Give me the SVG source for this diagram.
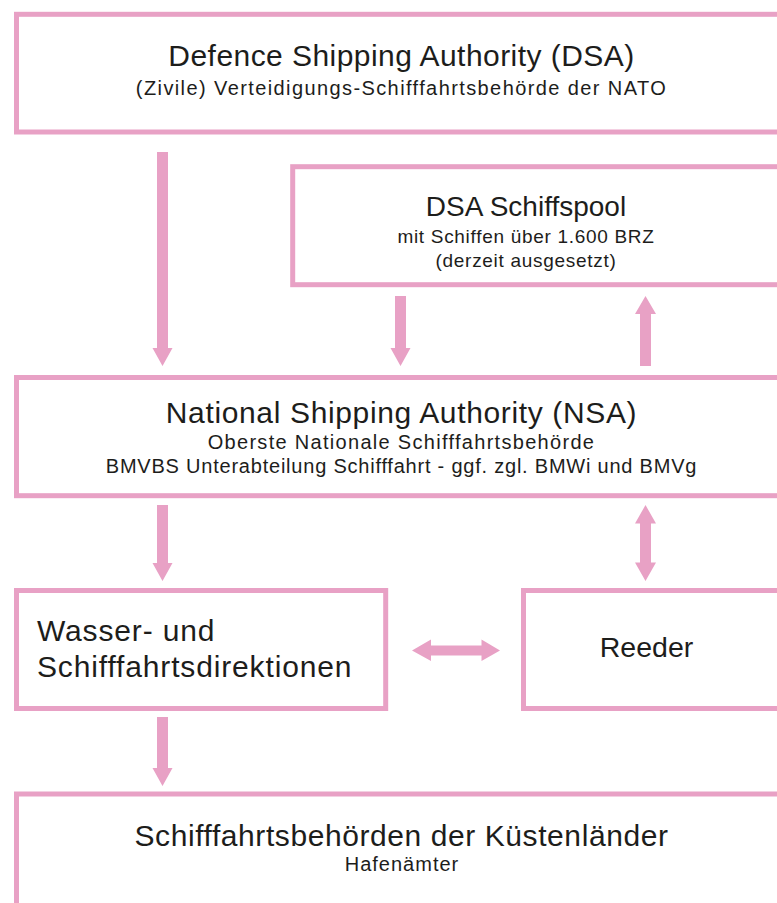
<svg xmlns="http://www.w3.org/2000/svg" width="777" height="903" viewBox="0 0 777 903">
  <style>
    .box { fill: #ffffff; stroke: #E8A1C5; stroke-width: 5; }
    .arrow { fill: #E8A1C5; stroke: none; }
    text { font-family: "Liberation Sans", Arial, sans-serif; fill: #1d1d1b; text-anchor: middle; }
    .t1 { font-size: 30px; }
    .t2 { font-size: 20px; }
    .t3 { font-size: 19px; letter-spacing: 0.7px; }
    .big { font-size: 30px; letter-spacing: 0.85px; text-anchor: start; }
  </style>
  <rect width="777" height="903" fill="#ffffff"/>

  <g id="dsa">
    <rect class="box" x="16.5" y="14.3" width="800" height="117.7"/>
    <text class="t1" x="401.5" y="65.5" style="letter-spacing:0.45px">Defence Shipping Authority (DSA)</text>
    <text class="t2" x="401.5" y="94.5" style="letter-spacing:1.4px">(Zivile) Verteidigungs-Schifffahrtsbehörde der NATO</text>
  </g>

  <g id="pool">
    <rect class="box" x="292.7" y="166.7" width="520" height="118"/>
    <text class="t1" x="526" y="216" style="font-size:28px">DSA Schiffspool</text>
    <text class="t3" x="526" y="243">mit Schiffen über 1.600 BRZ</text>
    <text class="t3" x="526" y="267">(derzeit ausgesetzt)</text>
  </g>

  <g id="nsa">
    <rect class="box" x="16.5" y="377.5" width="800" height="118.2"/>
    <text class="t1" x="401.5" y="423" style="letter-spacing:0.64px">National Shipping Authority (NSA)</text>
    <text class="t2" x="401.5" y="449" style="letter-spacing:1.3px">Oberste Nationale Schifffahrtsbehörde</text>
    <text class="t2" x="401.5" y="473" style="letter-spacing:0.78px">BMVBS Unterabteilung Schifffahrt - ggf. zgl. BMWi und BMVg</text>
  </g>

  <g id="wsd">
    <rect class="box" x="16.5" y="590.5" width="369.2" height="118"/>
    <text class="big" x="37" y="641">Wasser- und</text>
    <text class="big" x="37" y="677">Schifffahrtsdirektionen</text>
  </g>

  <g id="reeder">
    <rect class="box" x="523.5" y="590.5" width="300" height="118"/>
    <text class="t1" x="646.5" y="657" style="font-size:28.5px">Reeder</text>
  </g>

  <g id="kuesten">
    <rect class="box" x="16.5" y="794" width="800" height="150"/>
    <text class="t1" x="401.5" y="846" style="letter-spacing:0.58px">Schifffahrtsbehörden der Küstenländer</text>
    <text class="t2" x="402" y="871" style="letter-spacing:1px">Hafenämter</text>
  </g>

  <g id="connectors">
    <!-- DSA down to NSA -->
    <polygon class="arrow" points="157,152 168,152 168,348 172.5,348 162.5,366 152.5,348 157,348"/>
    <!-- pool down to NSA -->
    <polygon class="arrow" points="395,296 406,296 406,348 410.5,348 400.5,366 390.5,348 395,348"/>
    <!-- NSA up to pool -->
    <polygon class="arrow" points="640,366 651,366 651,314 656,314 645.5,296 635,314 640,314"/>
    <!-- NSA down to directorates -->
    <polygon class="arrow" points="157,505 168,505 168,563 172.5,563 162.5,581 152.5,563 157,563"/>
    <!-- NSA and shipowners, both ways -->
    <polygon class="arrow" points="645.5,505 656,523.5 651,523.5 651,562.5 656,562.5 645.5,581 635,562.5 640,562.5 640,523.5 635,523.5"/>
    <!-- directorates and shipowners, both ways -->
    <polygon class="arrow" points="412,650.5 431,639.5 431,645.5 481.5,645.5 481.5,639.5 500,650.5 481.5,661 481.5,655.5 431,655.5 431,661"/>
    <!-- directorates down to coastal authorities -->
    <polygon class="arrow" points="157,717 168,717 168,768 172.5,768 162.5,786 152.5,768 157,768"/>
  </g>
</svg>
